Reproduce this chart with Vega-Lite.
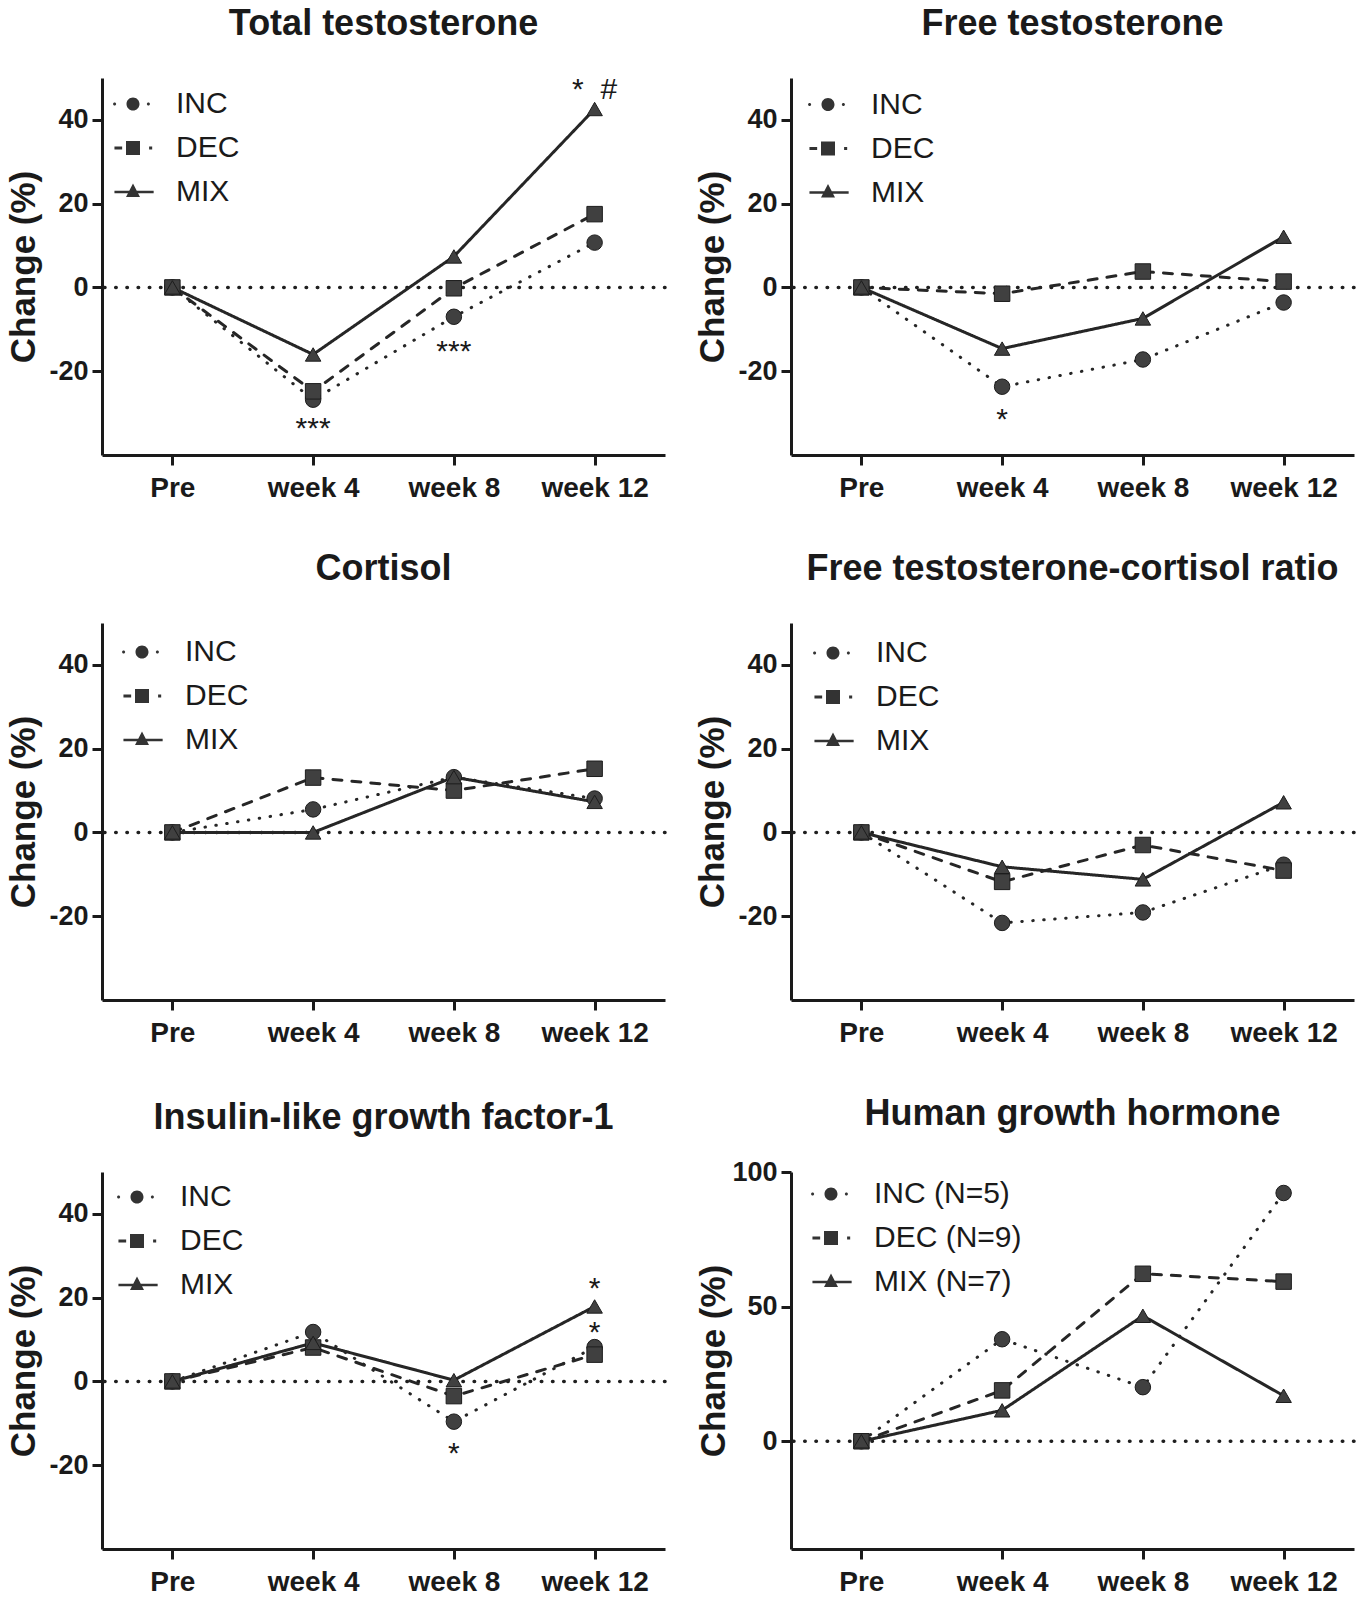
{
  "$schema": "https://vega.github.io/schema/vega-lite/v6.json",
  "background": "white",
  "padding": {"left": 6, "top": 6, "right": 5, "bottom": 5},
  "datasets": {
    "d": [
      {"p":"TT","g":"INC","t":0,"v":0},{"p":"TT","g":"INC","t":4,"v":-26.8},{"p":"TT","g":"INC","t":8,"v":-7.0},{"p":"TT","g":"INC","t":12,"v":10.7},
      {"p":"TT","g":"DEC","t":0,"v":0},{"p":"TT","g":"DEC","t":4,"v":-24.8},{"p":"TT","g":"DEC","t":8,"v":-0.2},{"p":"TT","g":"DEC","t":12,"v":17.5},
      {"p":"TT","g":"MIX","t":0,"v":0},{"p":"TT","g":"MIX","t":4,"v":-16.0},{"p":"TT","g":"MIX","t":8,"v":7.4},{"p":"TT","g":"MIX","t":12,"v":42.6},
      {"p":"FT","g":"INC","t":0,"v":0},{"p":"FT","g":"INC","t":4,"v":-23.7},{"p":"FT","g":"INC","t":8,"v":-17.2},{"p":"FT","g":"INC","t":12,"v":-3.6},
      {"p":"FT","g":"DEC","t":0,"v":0},{"p":"FT","g":"DEC","t":4,"v":-1.5},{"p":"FT","g":"DEC","t":8,"v":3.8},{"p":"FT","g":"DEC","t":12,"v":1.4},
      {"p":"FT","g":"MIX","t":0,"v":0},{"p":"FT","g":"MIX","t":4,"v":-14.6},{"p":"FT","g":"MIX","t":8,"v":-7.4},{"p":"FT","g":"MIX","t":12,"v":12.1},
      {"p":"CO","g":"INC","t":0,"v":0},{"p":"CO","g":"INC","t":4,"v":5.5},{"p":"CO","g":"INC","t":8,"v":13.2},{"p":"CO","g":"INC","t":12,"v":8.1},
      {"p":"CO","g":"DEC","t":0,"v":0},{"p":"CO","g":"DEC","t":4,"v":13.1},{"p":"CO","g":"DEC","t":8,"v":10.0},{"p":"CO","g":"DEC","t":12,"v":15.2},
      {"p":"CO","g":"MIX","t":0,"v":0},{"p":"CO","g":"MIX","t":4,"v":0},{"p":"CO","g":"MIX","t":8,"v":13.2},{"p":"CO","g":"MIX","t":12,"v":7.3},
      {"p":"FR","g":"INC","t":0,"v":0},{"p":"FR","g":"INC","t":4,"v":-21.6},{"p":"FR","g":"INC","t":8,"v":-19.1},{"p":"FR","g":"INC","t":12,"v":-7.7},
      {"p":"FR","g":"DEC","t":0,"v":0},{"p":"FR","g":"DEC","t":4,"v":-11.8},{"p":"FR","g":"DEC","t":8,"v":-3.0},{"p":"FR","g":"DEC","t":12,"v":-9.1},
      {"p":"FR","g":"MIX","t":0,"v":0},{"p":"FR","g":"MIX","t":4,"v":-8.2},{"p":"FR","g":"MIX","t":8,"v":-11.2},{"p":"FR","g":"MIX","t":12,"v":7.2},
      {"p":"IG","g":"INC","t":0,"v":0},{"p":"IG","g":"INC","t":4,"v":11.8},{"p":"IG","g":"INC","t":8,"v":-9.6},{"p":"IG","g":"INC","t":12,"v":8.2},
      {"p":"IG","g":"DEC","t":0,"v":0},{"p":"IG","g":"DEC","t":4,"v":8.1},{"p":"IG","g":"DEC","t":8,"v":-3.5},{"p":"IG","g":"DEC","t":12,"v":6.4},
      {"p":"IG","g":"MIX","t":0,"v":0},{"p":"IG","g":"MIX","t":4,"v":9.2},{"p":"IG","g":"MIX","t":8,"v":0.3},{"p":"IG","g":"MIX","t":12,"v":17.9},
      {"p":"GH","g":"INC","t":0,"v":0},{"p":"GH","g":"INC","t":4,"v":37.9},{"p":"GH","g":"INC","t":8,"v":20.1},{"p":"GH","g":"INC","t":12,"v":92.2},
      {"p":"GH","g":"DEC","t":0,"v":0},{"p":"GH","g":"DEC","t":4,"v":18.9},{"p":"GH","g":"DEC","t":8,"v":62.2},{"p":"GH","g":"DEC","t":12,"v":59.3},
      {"p":"GH","g":"MIX","t":0,"v":0},{"p":"GH","g":"MIX","t":4,"v":11.5},{"p":"GH","g":"MIX","t":8,"v":46.6},{"p":"GH","g":"MIX","t":12,"v":16.9}
    ],
    "ann": [
      {"p":"TT","t":4,"v":-32.4,"lab":"***"},
      {"p":"TT","t":8,"v":-13.9,"lab":"***"},
      {"p":"TT","t":12,"v":48.5,"lab":"*\u00a0\u00a0#"},
      {"p":"FT","t":4,"v":-30.2,"lab":"*"},
      {"p":"IG","t":8,"v":-15.9,"lab":"*"},
      {"p":"IG","t":12,"v":23.5,"lab":"*"},
      {"p":"IG","t":12,"v":13.0,"lab":"*"}
    ]
  },
  "columns": 2,
  "spacing": {"row": 49, "column": 28},
  "concat": [
    {
      "title": "Total testosterone",
      "width": 563, "height": 377,
      "resolve": {"scale": {"shape": "independent"}},
      "layer": [
        {"data": {"values": [{}]}, "mark": {"type": "rule", "strokeDash": [0.5, 10.7], "strokeCap": "round", "strokeWidth": 3.5, "color": "#1f1f1f"}, "encoding": {"y": {"datum": 0, "type": "quantitative", "scale": {"domain": [-40, 50], "nice": false, "zero": false}}}},
        {"data": {"name": "d"}, "transform": [{"filter": "datum.p == 'TT'"}], "mark": {"type": "line", "strokeWidth": 3, "strokeCap": "round", "color": "#262626"},
         "encoding": {
           "x": {"field": "t", "type": "quantitative", "scale": {"domain": [-2, 14], "nice": false, "zero": false}, "axis": {"values": [0, 4, 8, 12], "labelExpr": "datum.value == 0 ? 'Pre' : 'week ' + datum.value", "title": null}},
           "y": {"field": "v", "type": "quantitative", "scale": {"domain": [-40, 50], "nice": false, "zero": false}, "axis": {"values": [-20, 0, 20, 40], "title": "Change (%)", "labelExpr": "'' + datum.value"}},
           "strokeDash": {"field": "g", "type": "nominal", "scale": {"domain": ["INC", "DEC", "MIX"], "range": [[0.5, 10.5], [9, 10], [1, 0]]}, "legend": null}}},
        {"data": {"name": "d"}, "transform": [{"filter": "datum.p == 'TT'"}], "mark": {"type": "point", "filled": true, "size": 240, "fill": "#404040", "stroke": "#1c1c1c", "strokeWidth": 1, "opacity": 1},
         "encoding": {
           "x": {"field": "t", "type": "quantitative", "scale": {"domain": [-2, 14], "nice": false, "zero": false}},
           "y": {"field": "v", "type": "quantitative", "scale": {"domain": [-40, 50], "nice": false, "zero": false}},
           "shape": {"field": "g", "type": "nominal", "scale": {"domain": ["INC", "DEC", "MIX"], "range": ["circle", "square", "triangle-up"]}, "legend": null}}},
        {"data": {"name": "ann"}, "transform": [{"filter": "datum.p == 'TT'"}], "mark": {"type": "text", "fontSize": 30, "baseline": "middle", "dy": 6, "color": "#1a1a1a", "clip": true},
         "encoding": {
           "x": {"field": "t", "type": "quantitative", "scale": {"domain": [-2, 14], "nice": false, "zero": false}},
           "y": {"field": "v", "type": "quantitative", "scale": {"domain": [-40, 50], "nice": false, "zero": false}},
           "text": {"field": "lab"}}},
        {"data": {"name": "d"}, "transform": [{"filter": "datum.v > 999"}], "mark": {"type": "point", "filled": true, "size": 196, "color": "#333333", "strokeWidth": 0, "opacity": 1},
         "encoding": {"shape": {"field": "g", "type": "nominal",
           "scale": {"domain": ["INC", "DEC", "MIX"], "range": ["M-0.93,0A0.93,0.93,0,1,1,0.93,0A0.93,0.93,0,1,1,-0.93,0ZM-2.85,0A0.22,0.22,0,1,1,-2.41,0A0.22,0.22,0,1,1,-2.85,0ZM1.98,0A0.22,0.22,0,1,1,2.42,0A0.22,0.22,0,1,1,1.98,0Z", "M-2.65,-0.22H-1.55V0.22H-2.65ZM-1,-1H1V1H-1ZM2.3,-0.22H2.74V0.22H2.3Z", "M-2.65,-0.17H2.95V0.17H-2.65ZM0,-1.2L1,0.72L-1,0.72Z"]},
           "legend": {"orient": "none", "legendX": 16, "legendY": 11, "title": null}}}}
      ]
    },
    {
      "title": "Free testosterone",
      "width": 563, "height": 377,
      "resolve": {"scale": {"shape": "independent"}},
      "layer": [
        {"data": {"values": [{}]}, "mark": {"type": "rule", "strokeDash": [0.5, 10.7], "strokeCap": "round", "strokeWidth": 3.5, "color": "#1f1f1f"}, "encoding": {"y": {"datum": 0, "type": "quantitative", "scale": {"domain": [-40, 50], "nice": false, "zero": false}}}},
        {"data": {"name": "d"}, "transform": [{"filter": "datum.p == 'FT'"}], "mark": {"type": "line", "strokeWidth": 3, "strokeCap": "round", "color": "#262626"},
         "encoding": {
           "x": {"field": "t", "type": "quantitative", "scale": {"domain": [-2, 14], "nice": false, "zero": false}, "axis": {"values": [0, 4, 8, 12], "labelExpr": "datum.value == 0 ? 'Pre' : 'week ' + datum.value", "title": null}},
           "y": {"field": "v", "type": "quantitative", "scale": {"domain": [-40, 50], "nice": false, "zero": false}, "axis": {"values": [-20, 0, 20, 40], "title": "Change (%)", "labelExpr": "'' + datum.value"}},
           "strokeDash": {"field": "g", "type": "nominal", "scale": {"domain": ["INC", "DEC", "MIX"], "range": [[0.5, 10.5], [9, 10], [1, 0]]}, "legend": null}}},
        {"data": {"name": "d"}, "transform": [{"filter": "datum.p == 'FT'"}], "mark": {"type": "point", "filled": true, "size": 240, "fill": "#404040", "stroke": "#1c1c1c", "strokeWidth": 1, "opacity": 1},
         "encoding": {
           "x": {"field": "t", "type": "quantitative", "scale": {"domain": [-2, 14], "nice": false, "zero": false}},
           "y": {"field": "v", "type": "quantitative", "scale": {"domain": [-40, 50], "nice": false, "zero": false}},
           "shape": {"field": "g", "type": "nominal", "scale": {"domain": ["INC", "DEC", "MIX"], "range": ["circle", "square", "triangle-up"]}, "legend": null}}},
        {"data": {"name": "ann"}, "transform": [{"filter": "datum.p == 'FT'"}], "mark": {"type": "text", "fontSize": 30, "baseline": "middle", "dy": 6, "color": "#1a1a1a", "clip": true},
         "encoding": {
           "x": {"field": "t", "type": "quantitative", "scale": {"domain": [-2, 14], "nice": false, "zero": false}},
           "y": {"field": "v", "type": "quantitative", "scale": {"domain": [-40, 50], "nice": false, "zero": false}},
           "text": {"field": "lab"}}},
        {"data": {"name": "d"}, "transform": [{"filter": "datum.v > 999"}], "mark": {"type": "point", "filled": true, "size": 196, "color": "#333333", "strokeWidth": 0, "opacity": 1},
         "encoding": {"shape": {"field": "g", "type": "nominal",
           "scale": {"domain": ["INC", "DEC", "MIX"], "range": ["M-0.93,0A0.93,0.93,0,1,1,0.93,0A0.93,0.93,0,1,1,-0.93,0ZM-2.85,0A0.22,0.22,0,1,1,-2.41,0A0.22,0.22,0,1,1,-2.85,0ZM1.98,0A0.22,0.22,0,1,1,2.42,0A0.22,0.22,0,1,1,1.98,0Z", "M-2.65,-0.22H-1.55V0.22H-2.65ZM-1,-1H1V1H-1ZM2.3,-0.22H2.74V0.22H2.3Z", "M-2.65,-0.17H2.95V0.17H-2.65ZM0,-1.2L1,0.72L-1,0.72Z"]},
           "legend": {"orient": "none", "legendX": 22, "legendY": 11.5, "title": null}}}}
      ]
    },
    {
      "title": "Cortisol",
      "width": 563, "height": 377,
      "resolve": {"scale": {"shape": "independent"}},
      "layer": [
        {"data": {"values": [{}]}, "mark": {"type": "rule", "strokeDash": [0.5, 10.7], "strokeCap": "round", "strokeWidth": 3.5, "color": "#1f1f1f"}, "encoding": {"y": {"datum": 0, "type": "quantitative", "scale": {"domain": [-40, 50], "nice": false, "zero": false}}}},
        {"data": {"name": "d"}, "transform": [{"filter": "datum.p == 'CO'"}], "mark": {"type": "line", "strokeWidth": 3, "strokeCap": "round", "color": "#262626"},
         "encoding": {
           "x": {"field": "t", "type": "quantitative", "scale": {"domain": [-2, 14], "nice": false, "zero": false}, "axis": {"values": [0, 4, 8, 12], "labelExpr": "datum.value == 0 ? 'Pre' : 'week ' + datum.value", "title": null}},
           "y": {"field": "v", "type": "quantitative", "scale": {"domain": [-40, 50], "nice": false, "zero": false}, "axis": {"values": [-20, 0, 20, 40], "title": "Change (%)", "labelExpr": "'' + datum.value"}},
           "strokeDash": {"field": "g", "type": "nominal", "scale": {"domain": ["INC", "DEC", "MIX"], "range": [[0.5, 10.5], [9, 10], [1, 0]]}, "legend": null}}},
        {"data": {"name": "d"}, "transform": [{"filter": "datum.p == 'CO'"}], "mark": {"type": "point", "filled": true, "size": 240, "fill": "#404040", "stroke": "#1c1c1c", "strokeWidth": 1, "opacity": 1},
         "encoding": {
           "x": {"field": "t", "type": "quantitative", "scale": {"domain": [-2, 14], "nice": false, "zero": false}},
           "y": {"field": "v", "type": "quantitative", "scale": {"domain": [-40, 50], "nice": false, "zero": false}},
           "shape": {"field": "g", "type": "nominal", "scale": {"domain": ["INC", "DEC", "MIX"], "range": ["circle", "square", "triangle-up"]}, "legend": null}}},
        {"data": {"name": "d"}, "transform": [{"filter": "datum.v > 999"}], "mark": {"type": "point", "filled": true, "size": 196, "color": "#333333", "strokeWidth": 0, "opacity": 1},
         "encoding": {"shape": {"field": "g", "type": "nominal",
           "scale": {"domain": ["INC", "DEC", "MIX"], "range": ["M-0.93,0A0.93,0.93,0,1,1,0.93,0A0.93,0.93,0,1,1,-0.93,0ZM-2.85,0A0.22,0.22,0,1,1,-2.41,0A0.22,0.22,0,1,1,-2.85,0ZM1.98,0A0.22,0.22,0,1,1,2.42,0A0.22,0.22,0,1,1,1.98,0Z", "M-2.65,-0.22H-1.55V0.22H-2.65ZM-1,-1H1V1H-1ZM2.3,-0.22H2.74V0.22H2.3Z", "M-2.65,-0.17H2.95V0.17H-2.65ZM0,-1.2L1,0.72L-1,0.72Z"]},
           "legend": {"orient": "none", "legendX": 25, "legendY": 14, "title": null}}}}
      ]
    },
    {
      "title": "Free testosterone-cortisol ratio",
      "width": 563, "height": 377,
      "resolve": {"scale": {"shape": "independent"}},
      "layer": [
        {"data": {"values": [{}]}, "mark": {"type": "rule", "strokeDash": [0.5, 10.7], "strokeCap": "round", "strokeWidth": 3.5, "color": "#1f1f1f"}, "encoding": {"y": {"datum": 0, "type": "quantitative", "scale": {"domain": [-40, 50], "nice": false, "zero": false}}}},
        {"data": {"name": "d"}, "transform": [{"filter": "datum.p == 'FR'"}], "mark": {"type": "line", "strokeWidth": 3, "strokeCap": "round", "color": "#262626"},
         "encoding": {
           "x": {"field": "t", "type": "quantitative", "scale": {"domain": [-2, 14], "nice": false, "zero": false}, "axis": {"values": [0, 4, 8, 12], "labelExpr": "datum.value == 0 ? 'Pre' : 'week ' + datum.value", "title": null}},
           "y": {"field": "v", "type": "quantitative", "scale": {"domain": [-40, 50], "nice": false, "zero": false}, "axis": {"values": [-20, 0, 20, 40], "title": "Change (%)", "labelExpr": "'' + datum.value"}},
           "strokeDash": {"field": "g", "type": "nominal", "scale": {"domain": ["INC", "DEC", "MIX"], "range": [[0.5, 10.5], [9, 10], [1, 0]]}, "legend": null}}},
        {"data": {"name": "d"}, "transform": [{"filter": "datum.p == 'FR'"}], "mark": {"type": "point", "filled": true, "size": 240, "fill": "#404040", "stroke": "#1c1c1c", "strokeWidth": 1, "opacity": 1},
         "encoding": {
           "x": {"field": "t", "type": "quantitative", "scale": {"domain": [-2, 14], "nice": false, "zero": false}},
           "y": {"field": "v", "type": "quantitative", "scale": {"domain": [-40, 50], "nice": false, "zero": false}},
           "shape": {"field": "g", "type": "nominal", "scale": {"domain": ["INC", "DEC", "MIX"], "range": ["circle", "square", "triangle-up"]}, "legend": null}}},
        {"data": {"name": "d"}, "transform": [{"filter": "datum.v > 999"}], "mark": {"type": "point", "filled": true, "size": 196, "color": "#333333", "strokeWidth": 0, "opacity": 1},
         "encoding": {"shape": {"field": "g", "type": "nominal",
           "scale": {"domain": ["INC", "DEC", "MIX"], "range": ["M-0.93,0A0.93,0.93,0,1,1,0.93,0A0.93,0.93,0,1,1,-0.93,0ZM-2.85,0A0.22,0.22,0,1,1,-2.41,0A0.22,0.22,0,1,1,-2.85,0ZM1.98,0A0.22,0.22,0,1,1,2.42,0A0.22,0.22,0,1,1,1.98,0Z", "M-2.65,-0.22H-1.55V0.22H-2.65ZM-1,-1H1V1H-1ZM2.3,-0.22H2.74V0.22H2.3Z", "M-2.65,-0.17H2.95V0.17H-2.65ZM0,-1.2L1,0.72L-1,0.72Z"]},
           "legend": {"orient": "none", "legendX": 27, "legendY": 15, "title": null}}}}
      ]
    },
    {
      "title": "Insulin-like growth factor-1",
      "width": 563, "height": 377,
      "resolve": {"scale": {"shape": "independent"}},
      "layer": [
        {"data": {"values": [{}]}, "mark": {"type": "rule", "strokeDash": [0.5, 10.7], "strokeCap": "round", "strokeWidth": 3.5, "color": "#1f1f1f"}, "encoding": {"y": {"datum": 0, "type": "quantitative", "scale": {"domain": [-40, 50], "nice": false, "zero": false}}}},
        {"data": {"name": "d"}, "transform": [{"filter": "datum.p == 'IG'"}], "mark": {"type": "line", "strokeWidth": 3, "strokeCap": "round", "color": "#262626"},
         "encoding": {
           "x": {"field": "t", "type": "quantitative", "scale": {"domain": [-2, 14], "nice": false, "zero": false}, "axis": {"values": [0, 4, 8, 12], "labelExpr": "datum.value == 0 ? 'Pre' : 'week ' + datum.value", "title": null}},
           "y": {"field": "v", "type": "quantitative", "scale": {"domain": [-40, 50], "nice": false, "zero": false}, "axis": {"values": [-20, 0, 20, 40], "title": "Change (%)", "labelExpr": "'' + datum.value"}},
           "strokeDash": {"field": "g", "type": "nominal", "scale": {"domain": ["INC", "DEC", "MIX"], "range": [[0.5, 10.5], [9, 10], [1, 0]]}, "legend": null}}},
        {"data": {"name": "d"}, "transform": [{"filter": "datum.p == 'IG'"}], "mark": {"type": "point", "filled": true, "size": 240, "fill": "#404040", "stroke": "#1c1c1c", "strokeWidth": 1, "opacity": 1},
         "encoding": {
           "x": {"field": "t", "type": "quantitative", "scale": {"domain": [-2, 14], "nice": false, "zero": false}},
           "y": {"field": "v", "type": "quantitative", "scale": {"domain": [-40, 50], "nice": false, "zero": false}},
           "shape": {"field": "g", "type": "nominal", "scale": {"domain": ["INC", "DEC", "MIX"], "range": ["circle", "square", "triangle-up"]}, "legend": null}}},
        {"data": {"name": "ann"}, "transform": [{"filter": "datum.p == 'IG'"}], "mark": {"type": "text", "fontSize": 30, "baseline": "middle", "dy": 6, "color": "#1a1a1a", "clip": true},
         "encoding": {
           "x": {"field": "t", "type": "quantitative", "scale": {"domain": [-2, 14], "nice": false, "zero": false}},
           "y": {"field": "v", "type": "quantitative", "scale": {"domain": [-40, 50], "nice": false, "zero": false}},
           "text": {"field": "lab"}}},
        {"data": {"name": "d"}, "transform": [{"filter": "datum.v > 999"}], "mark": {"type": "point", "filled": true, "size": 196, "color": "#333333", "strokeWidth": 0, "opacity": 1},
         "encoding": {"shape": {"field": "g", "type": "nominal",
           "scale": {"domain": ["INC", "DEC", "MIX"], "range": ["M-0.93,0A0.93,0.93,0,1,1,0.93,0A0.93,0.93,0,1,1,-0.93,0ZM-2.85,0A0.22,0.22,0,1,1,-2.41,0A0.22,0.22,0,1,1,-2.85,0ZM1.98,0A0.22,0.22,0,1,1,2.42,0A0.22,0.22,0,1,1,1.98,0Z", "M-2.65,-0.22H-1.55V0.22H-2.65ZM-1,-1H1V1H-1ZM2.3,-0.22H2.74V0.22H2.3Z", "M-2.65,-0.17H2.95V0.17H-2.65ZM0,-1.2L1,0.72L-1,0.72Z"]},
           "legend": {"orient": "none", "legendX": 20, "legendY": 10, "title": null}}}}
      ]
    },
    {
      "title": {"text": "Human growth hormone", "offset": 25},
      "width": 563, "height": 377,
      "resolve": {"scale": {"shape": "independent"}},
      "layer": [
        {"data": {"values": [{}]}, "mark": {"type": "rule", "strokeDash": [0.5, 10.7], "strokeCap": "round", "strokeWidth": 3.5, "color": "#1f1f1f"}, "encoding": {"y": {"datum": 0, "type": "quantitative", "scale": {"domain": [-40, 100], "nice": false, "zero": false}}}},
        {"data": {"name": "d"}, "transform": [{"filter": "datum.p == 'GH'"}], "mark": {"type": "line", "strokeWidth": 3, "strokeCap": "round", "color": "#262626"},
         "encoding": {
           "x": {"field": "t", "type": "quantitative", "scale": {"domain": [-2, 14], "nice": false, "zero": false}, "axis": {"values": [0, 4, 8, 12], "labelExpr": "datum.value == 0 ? 'Pre' : 'week ' + datum.value", "title": null}},
           "y": {"field": "v", "type": "quantitative", "scale": {"domain": [-40, 100], "nice": false, "zero": false}, "axis": {"values": [0, 50, 100], "title": "Change (%)", "labelExpr": "'' + datum.value", "titlePadding": 0}},
           "strokeDash": {"field": "g", "type": "nominal", "scale": {"domain": ["INC", "DEC", "MIX"], "range": [[0.5, 10.5], [9, 10], [1, 0]]}, "legend": null}}},
        {"data": {"name": "d"}, "transform": [{"filter": "datum.p == 'GH'"}], "mark": {"type": "point", "filled": true, "size": 240, "fill": "#404040", "stroke": "#1c1c1c", "strokeWidth": 1, "opacity": 1},
         "encoding": {
           "x": {"field": "t", "type": "quantitative", "scale": {"domain": [-2, 14], "nice": false, "zero": false}},
           "y": {"field": "v", "type": "quantitative", "scale": {"domain": [-40, 100], "nice": false, "zero": false}},
           "shape": {"field": "g", "type": "nominal", "scale": {"domain": ["INC", "DEC", "MIX"], "range": ["circle", "square", "triangle-up"]}, "legend": null}}},
        {"data": {"name": "d"}, "transform": [{"filter": "datum.v > 999"}], "mark": {"type": "point", "filled": true, "size": 196, "color": "#333333", "strokeWidth": 0, "opacity": 1},
         "encoding": {"shape": {"field": "g", "type": "nominal",
           "scale": {"domain": ["INC", "DEC", "MIX"], "range": ["M-0.93,0A0.93,0.93,0,1,1,0.93,0A0.93,0.93,0,1,1,-0.93,0ZM-2.85,0A0.22,0.22,0,1,1,-2.41,0A0.22,0.22,0,1,1,-2.85,0ZM1.98,0A0.22,0.22,0,1,1,2.42,0A0.22,0.22,0,1,1,1.98,0Z", "M-2.65,-0.22H-1.55V0.22H-2.65ZM-1,-1H1V1H-1ZM2.3,-0.22H2.74V0.22H2.3Z", "M-2.65,-0.17H2.95V0.17H-2.65ZM0,-1.2L1,0.72L-1,0.72Z"]},
           "legend": {"orient": "none", "legendX": 25, "legendY": 7, "title": null, "labelExpr": "datum.label == 'INC' ? 'INC (N=5)' : datum.label == 'DEC' ? 'DEC (N=9)' : 'MIX (N=7)'"}}}}
      ]
    }
  ],
  "config": {
    "font": "Liberation Sans",
    "view": {"stroke": null},
    "title": {"fontSize": 36, "fontWeight": "bold", "color": "#1a1a1a", "anchor": "middle", "frame": "group", "baseline": "alphabetic", "offset": 35},
    "axis": {"grid": false, "domainColor": "#1a1a1a", "domainWidth": 3, "tickColor": "#1a1a1a", "tickWidth": 3, "tickSize": 10, "labelColor": "#1a1a1a", "labelFontWeight": "bold", "titleColor": "#1a1a1a", "titleFontWeight": "bold", "titleFontSize": 35},
    "axisX": {"labelFontSize": 28, "labelPadding": 9},
    "axisY": {"labelFontSize": 27, "labelPadding": 4, "titlePadding": 7},
    "legend": {"labelFontSize": 30, "labelColor": "#1a1a1a", "symbolSize": 196, "labelOffset": 28, "rowPadding": 14, "padding": 0, "symbolStrokeWidth": 0, "symbolOffset": 0, "labelLimit": 400, "symbolFillColor": "#333333"}
  }
}
